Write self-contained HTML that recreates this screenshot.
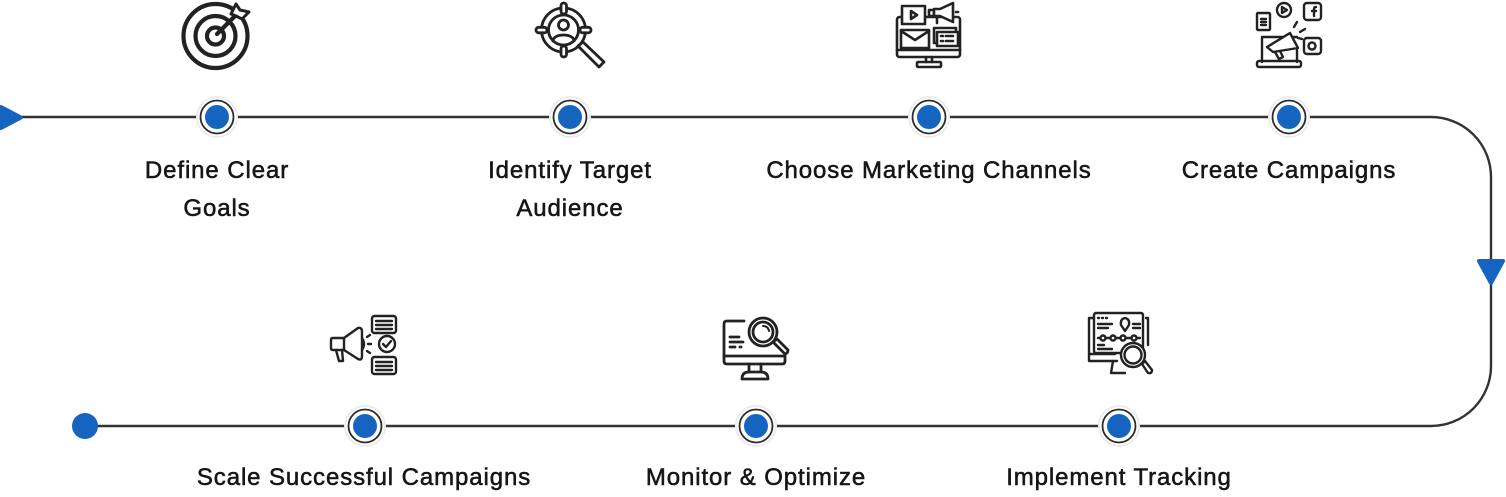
<!DOCTYPE html>
<html>
<head>
<meta charset="utf-8">
<style>
  html, body { margin: 0; padding: 0; background: #ffffff; }
  body { width: 1506px; height: 497px; overflow: hidden; }
  svg { display: block; }
  text { font-family: "Liberation Sans", Arial, sans-serif; font-size: 24px; fill: #161616; stroke: #161616; stroke-width: 0.55px; letter-spacing: 0.9px; }
</style>
</head>
<body>
<svg width="1506" height="497" viewBox="0 0 1506 497" xmlns="http://www.w3.org/2000/svg">
  <!-- main connector path -->
  <path d="M 0 117 H 1431 A 60 60 0 0 1 1491 177 V 366 A 60 60 0 0 1 1431 426 H 85" fill="none" stroke="#333333" stroke-width="2.4"/>

  <!-- start arrow -->
  <polygon points="1,107 21,117.5 1,128" fill="#1565c0" stroke="#1565c0" stroke-width="4" stroke-linejoin="round"/>
  <!-- down arrow -->
  <polygon points="1479,261 1503,261 1491,283" fill="#1565c0" stroke="#1565c0" stroke-width="4" stroke-linejoin="round"/>

  <!-- end dot -->
  <circle cx="85" cy="426" r="13" fill="#1565c0"/>

  <!-- nodes -->
  <g id="nodes">
    <g transform="translate(217,117)">
      <circle r="20" fill="#fff" stroke="#ececec" stroke-width="2"/>
      <circle r="16.5" fill="#fff" stroke="#2b2b2b" stroke-width="1.8"/>
      <circle r="12" fill="#1565c0"/>
    </g>
    <g transform="translate(570,117)">
      <circle r="20" fill="#fff" stroke="#ececec" stroke-width="2"/>
      <circle r="16.5" fill="#fff" stroke="#2b2b2b" stroke-width="1.8"/>
      <circle r="12" fill="#1565c0"/>
    </g>
    <g transform="translate(929,117)">
      <circle r="20" fill="#fff" stroke="#ececec" stroke-width="2"/>
      <circle r="16.5" fill="#fff" stroke="#2b2b2b" stroke-width="1.8"/>
      <circle r="12" fill="#1565c0"/>
    </g>
    <g transform="translate(1289,117)">
      <circle r="20" fill="#fff" stroke="#ececec" stroke-width="2"/>
      <circle r="16.5" fill="#fff" stroke="#2b2b2b" stroke-width="1.8"/>
      <circle r="12" fill="#1565c0"/>
    </g>
    <g transform="translate(365,426)">
      <circle r="20" fill="#fff" stroke="#ececec" stroke-width="2"/>
      <circle r="16.5" fill="#fff" stroke="#2b2b2b" stroke-width="1.8"/>
      <circle r="12" fill="#1565c0"/>
    </g>
    <g transform="translate(756,426)">
      <circle r="20" fill="#fff" stroke="#ececec" stroke-width="2"/>
      <circle r="16.5" fill="#fff" stroke="#2b2b2b" stroke-width="1.8"/>
      <circle r="12" fill="#1565c0"/>
    </g>
    <g transform="translate(1119,426)">
      <circle r="20" fill="#fff" stroke="#ececec" stroke-width="2"/>
      <circle r="16.5" fill="#fff" stroke="#2b2b2b" stroke-width="1.8"/>
      <circle r="12" fill="#1565c0"/>
    </g>
  </g>

  <!-- labels -->
  <text x="217" y="178" text-anchor="middle">Define Clear</text>
  <text x="217" y="216" text-anchor="middle">Goals</text>
  <text x="570" y="178" text-anchor="middle">Identify Target</text>
  <text x="570" y="216" text-anchor="middle">Audience</text>
  <text x="929" y="178" text-anchor="middle">Choose Marketing Channels</text>
  <text x="1289" y="178" text-anchor="middle">Create Campaigns</text>
  <text x="364" y="485" text-anchor="middle">Scale Successful Campaigns</text>
  <text x="756" y="485" text-anchor="middle">Monitor &amp; Optimize</text>
  <text x="1119" y="485" text-anchor="middle">Implement Tracking</text>

  <!-- ICONS -->
  <g fill="none" stroke="#222" stroke-linecap="round" stroke-linejoin="round">
    <!-- Target -->
    <g stroke-width="4.2">
      <circle cx="215.5" cy="36" r="32"/>
      <circle cx="215.5" cy="36" r="20"/>
      <circle cx="215.5" cy="36" r="8.5"/>
      <line x1="217" y1="34" x2="236" y2="15"/>
    </g>
    <path d="M231,14 L236,4 L240,10 L249,12 L242,19 L236,16 Z" stroke-width="3" fill="#fff"/>

    <!-- Identify target audience -->
    <g stroke-width="2.8">
      <circle cx="563.5" cy="30" r="22"/>
      <circle cx="563.5" cy="30" r="15"/>
      <circle cx="563.5" cy="25" r="5"/>
      <path d="M553,41 C553,33 574,33 574,41"/>
      <rect x="561" y="3" width="5.5" height="11" rx="2.7" fill="#fff"/>
      <rect x="561" y="46" width="5.5" height="11" rx="2.7" fill="#fff"/>
      <rect x="536" y="27.3" width="11" height="5.5" rx="2.7" fill="#fff"/>
      <rect x="580" y="27.3" width="11" height="5.5" rx="2.7" fill="#fff"/>
      <path d="M578,46 L583,42 L604,62 L599,67 Z" fill="#fff"/>
    </g>

    <!-- Choose marketing channels -->
    <g stroke-width="2.6">
      <rect x="897" y="17" width="63" height="40" rx="2.5"/>
      <line x1="897" y1="50" x2="960" y2="50"/>
      <line x1="926" y1="57" x2="926" y2="62"/>
      <line x1="932" y1="57" x2="932" y2="62"/>
      <rect x="917" y="62" width="24" height="5" rx="1"/>
      <rect x="902" y="6" width="23" height="18" fill="#fff"/>
      <path d="M911,11 L917,15 L911,19 Z"/>
      <rect x="929" y="10" width="5" height="6" fill="#fff"/>
      <path d="M934,9 L940,9 L953,3 L953,22 L940,16 L934,16 Z" fill="#fff"/>
      <line x1="937" y1="17" x2="937" y2="23"/>
      <line x1="956" y1="12" x2="958" y2="12"/>
      <rect x="901" y="30" width="28" height="18" fill="#fff"/>
      <path d="M901,31 L915,40 L929,31"/>
      <rect x="934" y="28" width="22" height="15" fill="#fff"/>
      <rect x="937" y="32" width="21" height="14" fill="#fff"/>
      <line x1="941" y1="36" x2="943" y2="36"/>
      <line x1="946" y1="36" x2="953" y2="36"/>
      <line x1="941" y1="41" x2="943" y2="41"/>
      <line x1="946" y1="41" x2="953" y2="41"/>
    </g>

    <!-- Create campaigns -->
    <g stroke-width="2.4">
      <path d="M1262,62 L1262,37 L1297,37"/>
      <path d="M1297,50 L1297,62"/>
      <rect x="1257" y="61" width="44" height="6" rx="2"/>
      <rect x="1257" y="13" width="13" height="17" rx="1"/>
      <line x1="1261" y1="19" x2="1266" y2="19"/>
      <line x1="1261" y1="22" x2="1266" y2="22"/>
      <line x1="1261" y1="25" x2="1266" y2="25"/>
      <circle cx="1284" cy="10" r="7"/>
      <path d="M1282,7 L1287,10 L1282,13 Z"/>
      <rect x="1304" y="3" width="17" height="17" rx="3"/>
      <path d="M1314,16 L1314,9 Q1314,7 1316,7 M1312,11 L1316,11"/>
      <rect x="1304" y="38" width="17" height="16" rx="3"/>
      <circle cx="1312" cy="46" r="3.5"/>
      <path d="M1267,47 L1290,33 L1298,48 L1273,52 Z" fill="#fff"/>
      <path d="M1275,52 L1279,59 L1283,57 L1280,51"/>
      <line x1="1294" y1="27" x2="1297" y2="22"/>
      <line x1="1300" y1="32" x2="1305" y2="29"/>
      <line x1="1302" y1="39" x2="1298" y2="38"/>
    </g>

    <!-- Scale successful campaigns -->
    <g stroke-width="2.4">
      <path d="M333,338 L344,338 L358,328 Q362,327 362,332 L362,356 Q362,361 358,359 L344,350 L333,350 Q331,350 331,348 L331,340 Q331,338 333,338 Z"/>
      <line x1="344" y1="338" x2="344" y2="350"/>
      <path d="M336,350 L339,361 L343,361 L342,350"/>
      <path d="M362,338 Q366,344 362,350"/>
      <line x1="367" y1="337" x2="370" y2="335"/>
      <line x1="368" y1="344" x2="371" y2="344"/>
      <line x1="367" y1="351" x2="370" y2="353"/>
      <rect x="372" y="316" width="24" height="17" rx="2.5"/>
      <line x1="376" y1="321" x2="392" y2="321"/>
      <line x1="376" y1="325" x2="392" y2="325"/>
      <line x1="376" y1="329" x2="392" y2="329"/>
      <circle cx="387" cy="344" r="8"/>
      <path d="M383,344 L386,347 L391,341"/>
      <rect x="372" y="357" width="24" height="17" rx="2.5"/>
      <line x1="376" y1="362" x2="392" y2="362"/>
      <line x1="376" y1="366" x2="392" y2="366"/>
      <line x1="376" y1="370" x2="392" y2="370"/>
    </g>

    <!-- Monitor & optimize -->
    <g stroke-width="2.8">
      <path d="M744,321 L727,321 Q724,321 724,324 L724,361 Q724,364 727,364 L782,364 Q785,364 785,361 L785,348"/>
      <line x1="724" y1="356" x2="785" y2="356"/>
      <line x1="749" y1="364" x2="749" y2="372"/>
      <line x1="761" y1="364" x2="761" y2="372"/>
      <path d="M742,379 Q742,372 749,372 L761,372 Q768,372 768,379 Z"/>
      <line x1="730" y1="337" x2="739" y2="337"/>
      <line x1="730" y1="342" x2="743" y2="342"/>
      <line x1="730" y1="347" x2="735" y2="347"/>
      <line x1="740" y1="347" x2="741" y2="347"/>
      <circle cx="763" cy="332" r="14" fill="#fff"/>
      <circle cx="763" cy="332" r="10"/>
      <path d="M763,326 Q768,326 769,331" stroke-width="2"/>
      <path d="M773,342 L777,339 L788,350 Q788,353 785,354 Z" fill="#fff"/>
    </g>

    <!-- Implement tracking -->
    <g stroke-width="2.4">
      <path d="M1093,318 L1089,318 L1089,361 L1117,361"/>
      <path d="M1146,318 L1148,318 L1148,345"/>
      <line x1="1089" y1="354" x2="1115" y2="354"/>
      <path d="M1113,361 L1111,373 L1125,373"/>
      <rect x="1094" y="313" width="49" height="40" rx="2"/>
      <line x1="1098" y1="318" x2="1099" y2="318"/>
      <line x1="1102" y1="318" x2="1103" y2="318"/>
      <line x1="1106" y1="318" x2="1107" y2="318"/>
      <path d="M1125,331 L1121,325 Q1120,319 1125,318 Q1130,319 1129,325 Z"/>
      <line x1="1098" y1="324" x2="1112" y2="324"/>
      <line x1="1098" y1="328" x2="1108" y2="328"/>
      <line x1="1133" y1="324" x2="1140" y2="324"/>
      <line x1="1133" y1="328" x2="1140" y2="328"/>
      <line x1="1098" y1="338" x2="1140" y2="338"/>
      <circle cx="1103" cy="338" r="2.5" fill="#fff"/>
      <circle cx="1113" cy="338" r="2.5" fill="#fff"/>
      <circle cx="1123" cy="338" r="2.5" fill="#fff"/>
      <circle cx="1134" cy="338" r="2.5" fill="#fff"/>
      <line x1="1098" y1="345" x2="1104" y2="345"/>
      <line x1="1098" y1="349" x2="1112" y2="349"/>
      <circle cx="1133" cy="355" r="12" fill="#fff"/>
      <circle cx="1133" cy="355" r="8.5"/>
      <path d="M1142,364 L1145,361 L1152,370 Q1152,374 1148,373 Z" fill="#fff"/>
    </g>
  </g>
</svg>
</body>
</html>
